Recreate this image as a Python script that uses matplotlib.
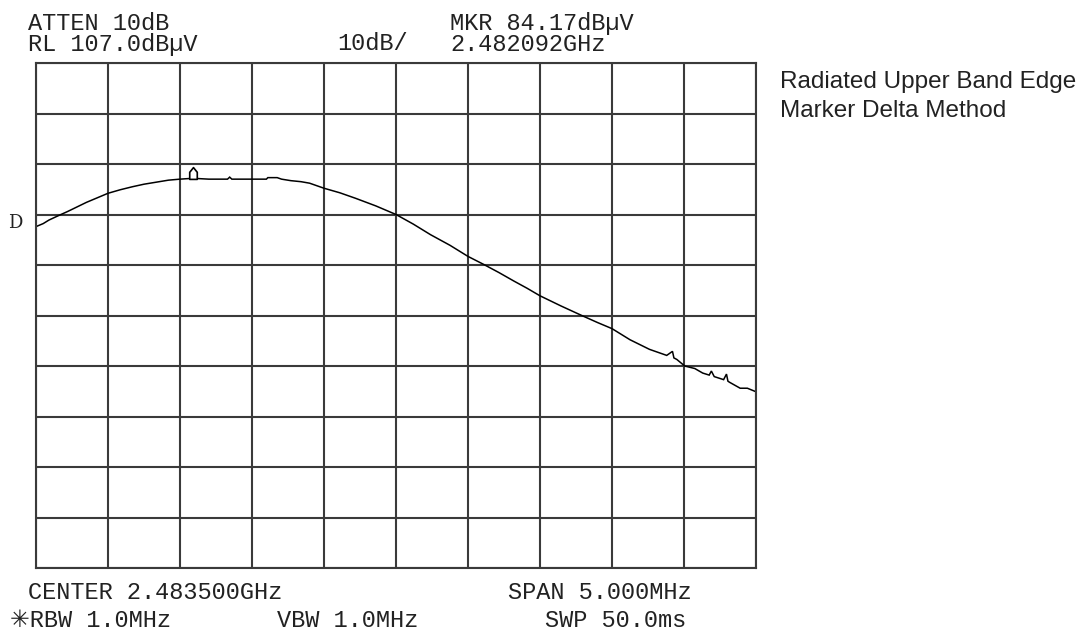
import matplotlib.pyplot as plt
import numpy as np
from matplotlib.path import Path

# analyzer settings
ref_level = 107.0      # dBuV, top line
db_per_div = 10.0
center_ghz = 2.4835
span_ghz = 0.005

# trace, position in divisions from left edge / level in dBuV
trace_div = [0.00, 0.10, 0.18, 0.30, 0.44, 0.57, 0.70, 0.85, 1.00, 1.17,
             1.34, 1.50, 1.67, 1.84, 2.00, 2.18, 2.40, 2.66, 2.69, 2.72,
             3.00, 3.20, 3.22, 3.35, 3.41, 3.54, 3.68, 3.80, 4.00, 4.22,
             4.44, 4.72, 5.00, 5.24, 5.48, 5.75, 6.00, 6.22, 6.43, 6.64,
             6.82, 7.00, 7.29, 7.58, 7.80, 8.00, 8.25, 8.52, 8.76, 8.84,
             8.86, 8.90, 9.01, 9.15, 9.26, 9.35, 9.38, 9.42, 9.55, 9.59,
             9.61, 9.63, 9.78, 9.88, 10.00]
trace_dbuv = [74.6, 75.2, 75.9, 76.7, 77.6, 78.5, 79.4, 80.3, 81.2, 81.9,
              82.5, 83.0, 83.4, 83.8, 84.0, 84.17, 84.0, 84.0, 84.4, 84.0,
              84.0, 84.0, 84.3, 84.3, 84.0, 83.7, 83.5, 83.2, 82.2, 81.3,
              80.2, 78.7, 77.0, 75.1, 73.0, 70.9, 68.7, 67.1, 65.5, 63.8,
              62.4, 60.9, 58.9, 57.0, 55.6, 54.4, 52.2, 50.3, 49.1, 49.9,
              48.6, 48.3, 47.0, 46.5, 45.6, 45.2, 46.0, 44.9, 44.3, 45.4,
              44.0, 43.8, 42.6, 42.6, 41.9]

mkr_ghz = 2.482092
mkr_dbuv = 84.17

top_left = ["ATTEN 10dB", "RL 107.0dB\u00b5V"]
scale_txt = "10dB/"
mkr_txt = ["MKR 84.17dB\u00b5V", "2.482092GHz"]
bottom_left = ["CENTER 2.483500GHz", "\u2733RBW 1.0MHz"]
vbw_txt = "VBW 1.0MHz"
bottom_right = ["SPAN 5.000MHz", "SWP 50.0ms"]
note = ["Radiated Upper Band Edge", "Marker Delta Method"]

W, H = 1086, 635
fig = plt.figure(figsize=(W / 100, H / 100), dpi=100)
fig.patch.set_facecolor("white")

# axes box in pixels
x0, x1, y0, y1 = 36, 756, 63, 568
ax = fig.add_axes([x0 / W, (H - y1) / H, (x1 - x0) / W, (y1 - y0) / H])

f_start = center_ghz - span_ghz / 2
f_stop = center_ghz + span_ghz / 2
freqs = f_start + np.array(trace_div) * span_ghz / 10

ax.plot(freqs, trace_dbuv, color="black", lw=1.1, solid_joinstyle="miter")

# marker symbol (little arrow-house shape)
mk = Path([(-0.32, -0.5), (-0.32, 0.1), (0, 0.5), (0.32, 0.1), (0.32, -0.5), (-0.32, -0.5)],
          [Path.MOVETO, Path.LINETO, Path.LINETO, Path.LINETO, Path.LINETO, Path.CLOSEPOLY])
ax.plot([mkr_ghz], [mkr_dbuv + 1.0], marker=mk, ms=8.5, mfc="white", mec="black",
        mew=1.2, ls="none")

bottom = ref_level - 10 * db_per_div
ax.set_xlim(f_start, f_stop)
ax.set_ylim(bottom, ref_level)
ax.set_xticks(np.linspace(f_start, f_stop, 11))
ax.set_yticks(np.linspace(bottom, ref_level, 11))
ax.grid(True, color="#3a3a3a", lw=1.5)
ax.tick_params(length=0, labelbottom=False, labelleft=False)
for s in ax.spines.values():
    s.set_color("#3a3a3a")
    s.set_linewidth(1.5)

mono = dict(family=["Liberation Mono", "DejaVu Sans"], fontsize=17, color="#222222")


def put(x, y, s, va="baseline", **kw):
    fig.text(x / W, 1 - y / H, s, va=va, ha="left", **kw)


# two-line header blocks (one text each, tight line pitch like the screen)
put(28, 12, "\n".join(top_left), va="top", linespacing=0.9, **mono)
put(450, 12, "\n".join(mkr_txt), va="top", linespacing=0.9, **mono)
put(337, 50, scale_txt, **mono)

put(28, 599, bottom_left[0], **mono)
put(10, 627, bottom_left[1], **mono)
put(277, 627, vbw_txt, **mono)
put(508, 599, bottom_right[0], **mono)
put(545, 627, bottom_right[1], **mono)

# display line label
put(8, 228, "D", family="DejaVu Serif", fontsize=13, color="#222222")

put(780, 88, note[0], family="Liberation Sans", fontsize=17.5, color="#222222")
put(780, 117, note[1], family="Liberation Sans", fontsize=17.5, color="#222222")

fig.savefig("out.png", dpi=100, facecolor="white")
